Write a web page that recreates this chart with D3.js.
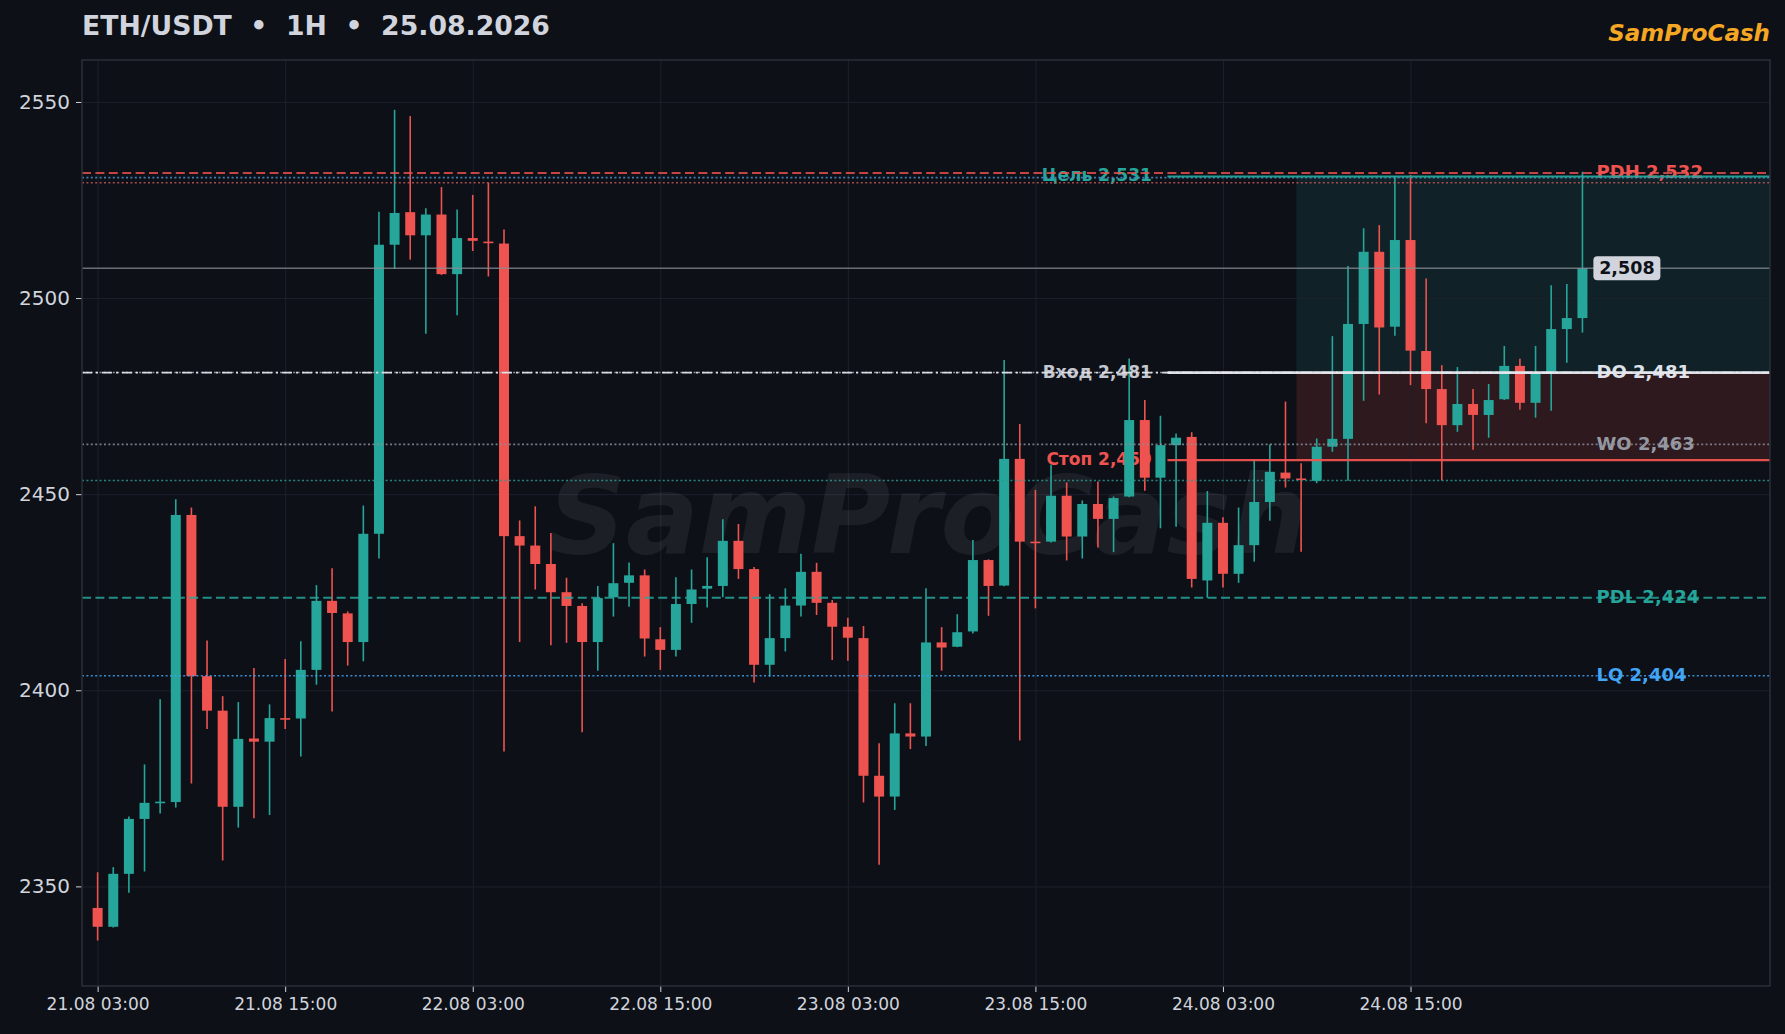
<html>
<head>
<meta charset="utf-8">
<script src="https://d3js.org/d3.v7.min.js"></script>
<style>
  body { margin: 0; background: #0d1017; }
  svg { display: block; font-family: "DejaVu Sans", sans-serif; }
</style>
</head>
<body>
<svg width="1785" height="1034"></svg>
<script>

// hourly candles, 21.08 03:00 -> 25.08 02:00
var opens  = [2344.5,2339.7,2353.2,2367.2,2371.3,2371.5,2444.7,2403.6,2394.8,2370.3,
              2387.7,2386.9,2392.9,2392.8,2405.2,2422.8,2419.6,2412.3,2439.9,2513.6,
              2521.9,2516.0,2521.3,2506.1,2515.3,2514.4,2513.9,2439.3,2436.9,2432.2,
              2425.0,2421.5,2412.3,2423.7,2427.4,2429.3,2413.0,2410.3,2422.0,2425.9,
              2426.6,2438.1,2430.9,2406.5,2413.3,2421.6,2430.2,2422.3,2416.2,2413.3,
              2378.2,2372.9,2389.0,2388.2,2412.2,2411.1,2415.0,2433.2,2426.7,2459.0,
              2437.9,2437.9,2449.6,2439.2,2447.5,2443.7,2449.4,2468.9,2454.2,2462.5,
              2464.6,2428.0,2442.7,2429.7,2437.0,2448.0,2455.5,2454.0,2453.4,2462.1,
              2464.1,2493.4,2511.8,2492.7,2514.8,2486.5,2476.8,2467.6,2473.0,2470.2,
              2474.2,2482.7,2473.3,2480.8,2492.1,2494.9];
var highs  = [2353.6,2354.9,2367.8,2381.1,2397.7,2448.7,2446.6,2412.7,2398.5,2397.0,
              2405.7,2396.4,2408.0,2412.5,2426.8,2431.1,2420.1,2447.1,2522.0,2548.0,
              2546.4,2522.9,2528.3,2522.6,2526.3,2529.4,2517.5,2443.3,2446.9,2440.1,
              2428.7,2422.2,2426.6,2437.5,2432.6,2430.8,2416.1,2428.8,2430.8,2433.9,
              2443.6,2442.4,2431.4,2424.5,2426.0,2434.8,2432.5,2423.0,2418.5,2416.4,
              2386.5,2396.7,2396.7,2426.0,2416.1,2419.4,2438.3,2433.4,2484.2,2467.9,
              2451.1,2457.5,2453.0,2448.4,2453.2,2449.4,2484.6,2474.0,2470.0,2465.5,
              2465.8,2450.8,2444.1,2446.6,2458.9,2462.7,2473.6,2457.9,2464.2,2490.3,
              2508.2,2517.8,2518.6,2531.0,2531.4,2505.0,2482.9,2482.4,2476.8,2478.1,
              2487.8,2484.5,2487.8,2503.3,2503.6,2532.2];
var lows   = [2336.2,2339.5,2348.4,2353.8,2368.6,2370.1,2376.2,2390.1,2356.6,2365.0,
              2367.4,2368.2,2390.1,2383.1,2401.4,2394.6,2406.3,2407.4,2433.6,2507.4,
              2509.8,2490.9,2505.9,2495.6,2512.0,2505.5,2384.4,2412.3,2425.7,2411.5,
              2412.1,2389.3,2405.0,2418.8,2421.3,2408.6,2405.2,2408.6,2417.2,2421.1,
              2423.7,2428.4,2402.0,2403.5,2409.9,2418.8,2419.2,2407.7,2407.5,2371.4,
              2355.5,2369.5,2385.0,2385.8,2405.0,2411.0,2414.5,2419.0,2426.5,2387.2,
              2420.9,2437.7,2433.1,2433.6,2436.4,2435.2,2449.2,2450.9,2441.3,2441.7,
              2426.2,2423.6,2426.2,2427.4,2432.8,2443.2,2451.7,2435.3,2452.8,2460.8,
              2453.4,2473.8,2475.4,2490.4,2477.8,2468.1,2453.5,2465.9,2461.3,2464.4,
              2474.0,2471.5,2469.5,2471.3,2483.5,2491.2];
var closes = [2339.7,2353.2,2367.2,2371.3,2371.6,2444.7,2403.6,2394.8,2370.3,2387.6,
              2386.9,2392.9,2392.6,2405.2,2422.8,2419.7,2412.3,2439.9,2513.6,2521.7,
              2516.0,2521.3,2506.1,2515.3,2514.6,2514.2,2439.3,2436.9,2432.2,2425.0,
              2421.5,2412.3,2423.5,2427.3,2429.3,2413.2,2410.3,2422.0,2425.7,2426.6,
              2438.1,2430.9,2406.5,2413.3,2421.6,2430.2,2422.3,2416.2,2413.4,2378.2,
              2372.9,2389.0,2388.2,2412.2,2410.9,2414.8,2433.2,2426.6,2459.0,2437.9,
              2437.6,2449.6,2439.2,2447.5,2443.7,2449.0,2468.9,2454.2,2462.5,2464.4,
              2428.4,2442.7,2429.7,2437.0,2448.0,2455.7,2454.0,2453.7,2462.1,2464.1,
              2493.4,2511.8,2492.5,2514.8,2486.6,2476.8,2467.6,2473.0,2470.2,2474.0,
              2482.7,2473.3,2480.8,2492.1,2494.9,2507.6];

var tickIndex  = [0, 12, 24, 36, 48, 60, 72, 84];
var tickLabels = ["21.08 03:00", "21.08 15:00", "22.08 03:00", "22.08 15:00",
                  "23.08 03:00", "23.08 15:00", "24.08 03:00", "24.08 15:00"];
var priceTicks = [2350, 2400, 2450, 2500, 2550];

// named levels (right side labels)
var levelNames  = ["PDH", "DO", "WO", "PDL", "LQ"];
var levelValues = [2531.9, 2481.0, 2462.7, 2423.6, 2403.7];
// unlabeled liquidity lines
var extraLevels = [2530.7, 2529.4, 2453.5];

// trade setup
var tradeNames  = ["Цель", "Вход", "Стоп"];
var tradeValues = [2531.0, 2481.0, 2458.7];
var tradeStart  = 76.7;

// note: "top" is taken by window.top, so plot edges get a prefix
var plotL = 82, plotR = 1770, plotT = 60, plotB = 986;
var green = "#26a69a", red = "#ef5350", blue = "#42a5f5";
var fmt = d3.format(",.0f");

var x = d3.scaleLinear().domain([-1, 107]).range([plotL, plotR]);
var y = d3.scaleLinear().domain([2324.6, 2560.7]).range([plotB, plotT]);

var svg = d3.select("svg");
svg.append("rect").attr("width", 1785).attr("height", 1034).attr("fill", "#0d1017");

var plot = svg.append("g");

// trade zones
plot.append("rect")
    .attr("x", x(tradeStart)).attr("y", y(tradeValues[0]))
    .attr("width", plotR - x(tradeStart)).attr("height", y(tradeValues[1]) - y(tradeValues[0]))
    .attr("fill", green).attr("fill-opacity", 0.12);
plot.append("rect")
    .attr("x", x(tradeStart)).attr("y", y(tradeValues[1]))
    .attr("width", plotR - x(tradeStart)).attr("height", y(tradeValues[2]) - y(tradeValues[1]))
    .attr("fill", red).attr("fill-opacity", 0.14);

// grid
plot.append("g")
    .attr("transform", "translate(0," + plotB + ")")
    .call(d3.axisBottom(x).tickValues(tickIndex).tickSize(-(plotB - plotT)).tickFormat(""))
    .call(g => g.select(".domain").remove())
    .selectAll("line").attr("stroke", "#1c202a").attr("stroke-width", 1);
plot.append("g")
    .attr("transform", "translate(" + plotL + ",0)")
    .call(d3.axisLeft(y).tickValues(priceTicks).tickSize(-(plotR - plotL)).tickFormat(""))
    .call(g => g.select(".domain").remove())
    .selectAll("line").attr("stroke", "#1c202a").attr("stroke-width", 1);

// watermark
plot.append("text")
    .attr("x", 928).attr("y", 553)
    .attr("text-anchor", "middle")
    .style("font-size", "108px").style("font-weight", "bold").style("font-style", "italic")
    .attr("fill", "#ffffff").attr("fill-opacity", 0.065)
    .text("SamProCash");

// trade labels, left of the trade lines
var tradeColors = [green, "#c4c7cf", red];
plot.selectAll(".tlabel")
    .data(tradeValues)
    .enter().append("text")
    .attr("class", "tlabel")
    .attr("x", x(67.45))
    .attr("y", d => y(d))
    .attr("text-anchor", "end")
    .attr("dominant-baseline", "middle")
    .style("font-size", "17px").style("font-weight", "bold")
    .attr("fill", (d, i) => tradeColors[i])
    .text((d, i) => tradeNames[i] + " " + fmt(d));

// candles
var candles = d3.range(opens.length);
var bodyW = 10;
plot.selectAll(".wick")
    .data(candles)
    .enter().append("line")
    .attr("x1", i => x(i)).attr("x2", i => x(i))
    .attr("y1", i => y(highs[i])).attr("y2", i => y(lows[i]))
    .attr("stroke", i => closes[i] >= opens[i] ? green : red)
    .attr("stroke-width", 1.6);
plot.selectAll(".body")
    .data(candles)
    .enter().append("rect")
    .attr("x", i => x(i) - bodyW / 2)
    .attr("y", i => y(Math.max(opens[i], closes[i])))
    .attr("width", bodyW)
    .attr("height", i => Math.max(1.6, Math.abs(y(opens[i]) - y(closes[i]))))
    .attr("fill", i => closes[i] >= opens[i] ? green : red);

// right labels
var levelColors = [red, "#dfe2ea", "#9598a1", green, blue];
plot.selectAll(".llabel")
    .data(levelValues)
    .enter().append("text")
    .attr("x", x(95.9))
    .attr("y", d => y(d) + 0.5)
    .attr("dominant-baseline", "middle")
    .style("font-size", "18px").style("font-weight", "bold")
    .attr("fill", (d, i) => levelColors[i])
    .text((d, i) => levelNames[i] + " " + fmt(d));

function hline(v, x0, color, width, dash, op) {
    plot.append("line")
        .attr("x1", x0).attr("x2", plotR)
        .attr("y1", y(v)).attr("y2", y(v))
        .attr("stroke", color).attr("stroke-width", width)
        .attr("stroke-dasharray", dash)
        .attr("stroke-opacity", op);
}

// level lines
var last = closes[closes.length - 1];
hline(last, plotL, "#8a8d96", 1.4, null, 0.75);
hline(extraLevels[0], plotL, "#4a8fd0", 1.6, "2,2.4", 0.85);
hline(extraLevels[1], plotL, "#d05a5e", 1.6, "2,2.4", 0.8);
hline(extraLevels[2], plotL, "#2a9a90", 1.6, "2,2.4", 0.85);
hline(levelValues[0], plotL, red, 2, "9,4.4", 0.8);
hline(levelValues[1], plotL, "#b0b3bb", 1.5, "2,2.4", 0.8);
hline(levelValues[2], plotL, "#8a8d96", 1.6, "2,2.4", 0.85);
hline(levelValues[3], plotL, green, 2, "9,4.4", 0.85);
hline(levelValues[4], plotL, blue, 1.6, "2,2.4", 0.85);
hline(tradeValues[1], plotL, "#e0e3ea", 1.8, "10,4,2,4", 0.95);

// trade lines
var tradeLineColors = [green, "#e6e8ee", red];
tradeValues.forEach(function(v, i) {
    hline(v, x(68.45), tradeLineColors[i], i == 1 ? 2.6 : 2.2, null, 0.95);
});

// last price tag
var tag = plot.append("g").attr("transform", "translate(" + x(95.7) + "," + y(last) + ")");
tag.append("rect")
    .attr("x", 0).attr("y", -12).attr("width", 67).attr("height", 24)
    .attr("rx", 4).attr("fill", "#d1d4dc");
tag.append("text")
    .attr("x", 33.5).attr("y", 1)
    .attr("text-anchor", "middle").attr("dominant-baseline", "middle")
    .style("font-size", "17.5px").style("font-weight", "bold")
    .attr("fill", "#0d1017")
    .text(fmt(last));

// axes
var yAxis = svg.append("g")
    .attr("transform", "translate(" + plotL + ",0)")
    .call(d3.axisLeft(y).tickValues(priceTicks).tickSize(6).tickPadding(6)
        .tickFormat(d3.format("d")));
yAxis.select(".domain").remove();
yAxis.selectAll("line").attr("stroke", "#d1d4dc");
yAxis.selectAll("text").attr("fill", "#d1d4dc").style("font-size", "20px")
    .style("font-family", "DejaVu Sans");

var xAxis = svg.append("g")
    .attr("transform", "translate(0," + plotB + ")")
    .call(d3.axisBottom(x).tickValues(tickIndex).tickSize(6).tickPadding(6)
        .tickFormat((d, i) => tickLabels[i]));
xAxis.select(".domain").remove();
xAxis.selectAll("line").attr("stroke", "#d1d4dc");
xAxis.selectAll("text").attr("fill", "#d1d4dc").style("font-size", "17px")
    .style("font-family", "DejaVu Sans");

// frame
svg.append("rect")
    .attr("x", plotL).attr("y", plotT)
    .attr("width", plotR - plotL).attr("height", plotB - plotT)
    .attr("fill", "none").attr("stroke", "#2a2e39").attr("stroke-width", 1.5);

// title + brand
svg.append("text")
    .attr("x", 82).attr("y", 35)
    .style("font-size", "26.7px").style("font-weight", "bold")
    .attr("fill", "#d1d4dc")
    .attr("xml:space", "preserve").style("white-space", "pre")
    .text("ETH/USDT  •  1H  •  25.08.2026");
svg.append("text")
    .attr("x", 1770).attr("y", 41)
    .attr("text-anchor", "end")
    .style("font-size", "23px").style("font-weight", "bold").style("font-style", "italic")
    .attr("fill", "#f5a623")
    .text("SamProCash");

</script>
</body>
</html>
